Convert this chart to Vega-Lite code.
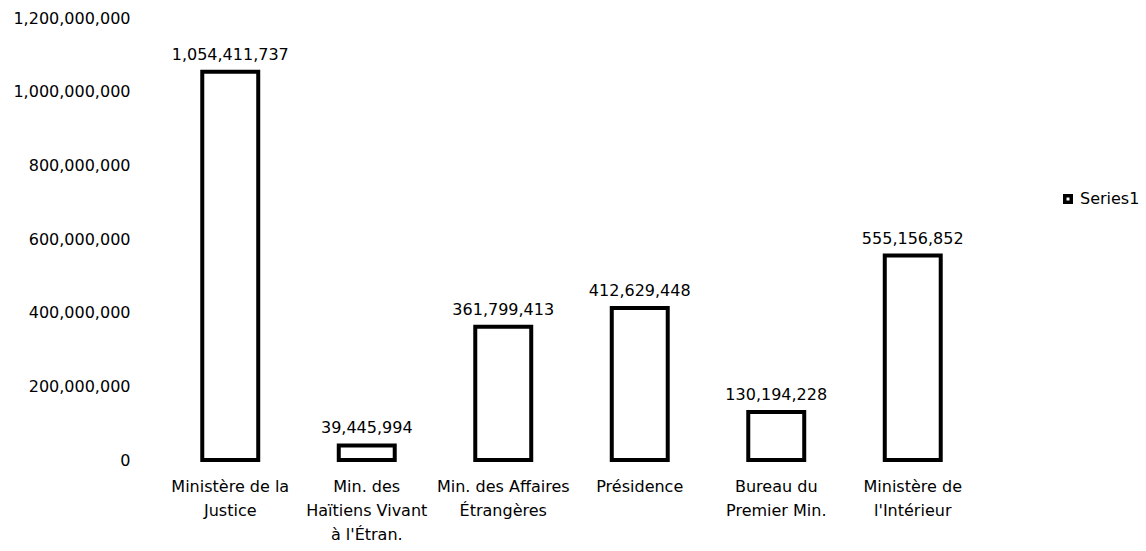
{
  "$schema": "https://vega.github.io/schema/vega-lite/v6.json",
  "autosize": {"type": "none"},
  "padding": {"left": 162, "top": 18, "right": 165, "bottom": 91},
  "width": 819,
  "height": 442,
  "background": "white",
  "config": {
    "view": {"stroke": null},
    "font": "DejaVu Sans"
  },
  "data": {
    "values": [
      {"ministere": "Ministère de la|Justice", "montant": 1054411737, "serie": "Series1"},
      {"ministere": "Min. des|Haïtiens Vivant|à l'Étran.", "montant": 39445994, "serie": "Series1"},
      {"ministere": "Min. des Affaires|Étrangères", "montant": 361799413, "serie": "Series1"},
      {"ministere": "Présidence", "montant": 412629448, "serie": "Series1"},
      {"ministere": "Bureau du|Premier Min.", "montant": 130194228, "serie": "Series1"},
      {"ministere": "Ministère de|l'Intérieur", "montant": 555156852, "serie": "Series1"}
    ]
  },
  "encoding": {
    "x": {
      "field": "ministere",
      "type": "nominal",
      "sort": null,
      "scale": {"paddingInner": 0.59, "paddingOuter": 0.295},
      "axis": {
        "title": null,
        "labelAngle": 0,
        "domain": false,
        "ticks": false,
        "labelExpr": "split(datum.label, '|')",
        "labelFontSize": 16,
        "labelColor": "black",
        "labelBaseline": "top",
        "labelLineHeight": 24,
        "labelPadding": 18,
        "labelFont": "DejaVu Sans"
      }
    },
    "y": {
      "field": "montant",
      "type": "quantitative",
      "scale": {"domain": [0, 1200000000], "nice": false},
      "axis": {
        "title": null,
        "values": [0, 200000000, 400000000, 600000000, 800000000, 1000000000, 1200000000],
        "format": ",d",
        "domain": false,
        "ticks": false,
        "grid": false,
        "labelFontSize": 16,
        "labelColor": "black",
        "labelPadding": 32,
        "labelFont": "DejaVu Sans"
      }
    }
  },
  "layer": [
    {
      "mark": {"type": "bar", "fill": "white", "stroke": "black", "strokeWidth": 4},
      "encoding": {
        "stroke": {
          "field": "serie",
          "type": "nominal",
          "scale": {"range": ["black"]},
          "legend": {
            "title": null,
            "orient": "none",
            "legendX": 898,
            "legendY": 173,
            "symbolType": "square",
            "symbolFillColor": "white",
            "symbolStrokeColor": "black",
            "symbolStrokeWidth": 3.5,
            "symbolSize": 42,
            "labelFontSize": 16,
            "labelColor": "black",
            "labelFont": "DejaVu Sans",
            "labelOffset": 4
          }
        }
      }
    },
    {
      "mark": {"type": "text", "baseline": "bottom", "dy": -9, "fontSize": 16, "color": "black", "font": "DejaVu Sans"},
      "encoding": {
        "text": {"field": "montant", "type": "quantitative", "format": ",d"}
      }
    }
  ]
}
